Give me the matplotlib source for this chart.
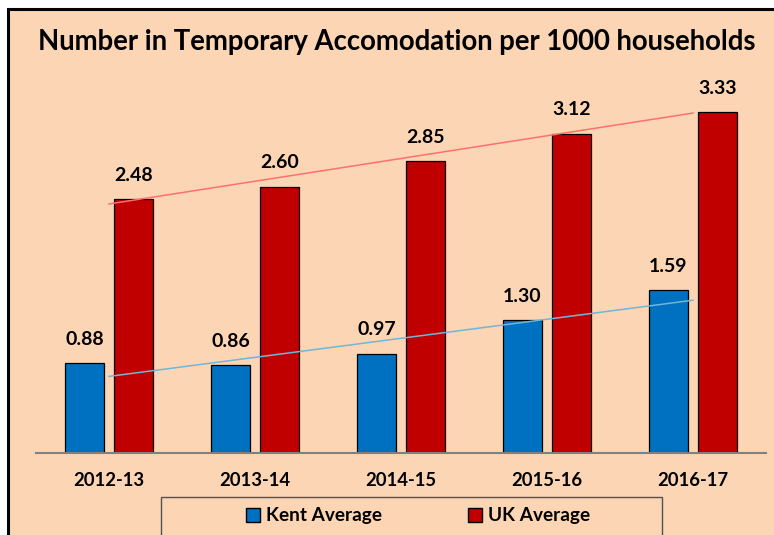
import numpy as np
import matplotlib.pyplot as plt
from matplotlib.patches import Rectangle, Patch

years = ['2012-13', '2013-14', '2014-15', '2015-16', '2016-17']
kent = [0.88, 0.86, 0.97, 1.30, 1.59]
uk = [2.48, 2.60, 2.85, 3.12, 3.33]

BG = '#FCD5B5'
BLUE = '#0070C0'
RED = '#C00000'


def main():
    plt.rcParams['font.family'] = ['Lato', 'DejaVu Sans']
    plt.rcParams['font.weight'] = 'bold'

    fig = plt.figure(figsize=(7.74, 5.35), dpi=100, facecolor='white')
    # peach panel with black border on left/top only (right/bottom run off the image)
    fig.patches.append(Rectangle((8 / 774, -0.1), 1.0, (535 - 9) / 535 + 0.1,
                                 transform=fig.transFigure, facecolor=BG,
                                 edgecolor='black', linewidth=2.2, zorder=-5))

    ax = fig.add_axes([36 / 774, 82 / 535, 730 / 774, 3.6 * 102.4 / 535])
    ax.set_facecolor('none')

    x = np.arange(len(years))
    w = 0.267
    off = 0.168
    kb = ax.bar(x - off, kent, w, color=BLUE, edgecolor='black', linewidth=0.9, zorder=2)
    ub = ax.bar(x + off, uk, w, color=RED, edgecolor='black', linewidth=0.9, zorder=2)

    for bars, vals in ((kb, kent), (ub, uk)):
        for b, v in zip(bars, vals):
            ax.text(b.get_x() + b.get_width() / 2, v + 0.15, f'{v:.2f}',
                    ha='center', va='bottom', fontsize=14, fontweight='bold')

    # linear trendlines
    for vals, col in ((kent, '#6FB7D6'), (uk, '#FF7070')):
        k, c = np.polyfit(x, vals, 1)
        ax.plot([x[0], x[-1]], [c, c + k * x[-1]], color=col, linewidth=1.1, zorder=3)

    ax.set_xlim(-0.5, len(years) - 0.5)
    ax.set_ylim(0, 3.6)
    ax.set_xticks(x)
    ax.set_xticklabels(years, fontsize=13.3, fontweight='bold')
    ax.tick_params(axis='x', length=0, pad=14)
    ax.set_yticks([])
    for s in ['top', 'right', 'left']:
        ax.spines[s].set_visible(False)
    ax.spines['bottom'].set_color('#808080')
    ax.spines['bottom'].set_linewidth(1.5)

    fig.text(397 / 774, 1 - 42 / 535, 'Number in Temporary Accomodation per 1000 households',
             ha='center', va='center', fontsize=19.8, fontweight='bold')

    # legend box
    fig.patches.append(Rectangle((161 / 774, -0.05), 501 / 774, (535 - 497) / 535 + 0.05,
                                 transform=fig.transFigure, facecolor='none',
                                 edgecolor='#505050', linewidth=1.0, zorder=1))
    handles = [Patch(facecolor=BLUE, edgecolor='black', label='Kent Average'),
               Patch(facecolor=RED, edgecolor='black', label='UK Average')]
    fig.legend(handles=handles, loc='center', bbox_to_anchor=(418 / 774, 1 - 516 / 535),
               ncol=2, frameon=False, fontsize=13.7, handlelength=0.75, handleheight=0.75,
               handletextpad=0.3, columnspacing=4.5)

    fig.savefig('out.png', dpi=100)


if __name__ == '__main__':
    main()
